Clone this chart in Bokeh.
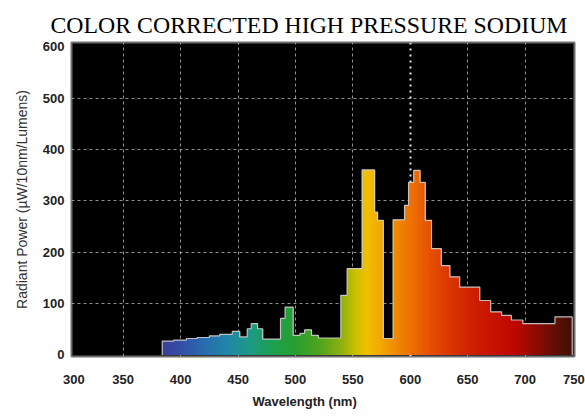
import numpy as np
from bokeh.plotting import figure
from bokeh.models import FixedTicker, Title, Range1d, Grid, ColumnDataSource
from bokeh.embed import file_html
from bokeh.resources import INLINE

# ---------------- data ----------------
# step edges of the spectral bins (nm) and radiant power in each bin
bin_edges = [384, 394, 405, 414.5, 425, 434, 445, 451.5, 458, 461.5,
             467, 471.5, 487, 491, 498, 504, 508, 514, 520, 539.5,
             545, 558, 569, 571.5, 576.5, 585, 595, 598.5, 603, 608.5,
             613, 618.5, 627, 634.5, 643, 660.5, 670, 679.5, 688, 698,
             726, 741]
power = [27, 29, 32, 34, 37, 40, 46, 35, 51, 61,
         51, 31, 71, 93, 38, 42, 49, 38, 33, 116,
         168, 360, 278, 262, 32, 263, 291, 336, 359, 336,
         262, 207, 174, 152, 132, 106, 84, 77, 68, 61,
         74]

x_tick_values = [307, 350, 400, 450, 500, 550, 600, 650, 700, 742.5]
x_tick_labels = ["300", "350", "400", "450", "500", "550", "600", "650", "700", "750"]
y_tick_values = [0, 100, 200, 300, 400, 500, 600]
x_grid_values = [350, 400, 450, 500, 550, 650, 700]
y_grid_values = [100, 200, 300, 400, 500]
marker_wavelength = [600]

# ---------------- style: wavelength -> colour stops ----------------
stop_nm = [380, 400, 420, 440, 460, 480, 500, 520, 540, 552, 562, 575,
           590, 605, 620, 640, 660, 690, 710, 730, 745]
stop_hex = ["#3c3c96", "#3450a8", "#2a6cb0", "#2286aa", "#1e9a86", "#1ea052",
            "#28a030", "#4ea420", "#90b010", "#c8c000", "#f0c000", "#f4a800",
            "#f08400", "#ec6a00", "#e44c00", "#d83000", "#cc1c00", "#c00800",
            "#8c0c04", "#581008", "#381008"]
stop_rgb = np.array([[int(h[i:i + 2], 16) for i in (1, 3, 5)] for h in stop_hex], float)


def wl_color(nm):
    r, g, b = (np.interp(nm, stop_nm, stop_rgb[:, k]) for k in range(3))
    return "#%02x%02x%02x" % (int(r), int(g), int(b))


# thin slices so the fill follows the colour of each wavelength;
# slices overlap the next one (drawn later, on top) to hide seams
OVERLAP = 1.3
lefts, rights, tops, cols = [], [], [], []
nb = len(power)
for i in range(nb):
    e0, e1 = bin_edges[i], bin_edges[i + 1]
    n = max(1, int(np.ceil(e1 - e0)))
    sub = np.linspace(e0, e1, n + 1)
    for j, (a, b) in enumerate(zip(sub[:-1], sub[1:])):
        last = j == n - 1
        first = j == 0
        r_ext = OVERLAP if (not last or (i + 1 < nb and power[i + 1] >= power[i])) else 0.0
        l_ext = OVERLAP if (first and i > 0 and power[i - 1] > power[i]) else 0.0
        lefts.append(a - l_ext)
        rights.append(b + r_ext)
        tops.append(power[i])
        cols.append(wl_color((a + b) / 2))
slices = ColumnDataSource(dict(left=lefts, right=rights, top=tops,
                               bottom=[0] * len(tops), color=cols))

# outline of the step curve
ox, oy = [bin_edges[0]], [0]
for i, v in enumerate(power):
    ox += [bin_edges[i], bin_edges[i + 1]]
    oy += [v, v]
ox.append(bin_edges[-1])
oy.append(0)

# ---------------- figure ----------------
p = figure(width=585, height=416,
           x_range=Range1d(305, 743), y_range=Range1d(-3, 608),
           output_backend="svg", toolbar_location=None,
           min_border_left=71, min_border_right=11,
           min_border_top=42, min_border_bottom=60,
           background_fill_color="black", border_fill_color="white",
           outline_line_color="#6e6e6e", outline_line_width=2)

p.title.text = "COLOR CORRECTED HIGH PRESSURE SODIUM"
p.title.text_font = "Liberation Serif"
p.title.text_font_size = "23.8px"
p.title.text_font_style = "normal"
p.title.text_color = "black"
p.title.align = "left"
p.title.offset = -21
p.title.standoff = 10

p.quad(left="left", right="right", top="top", bottom="bottom", source=slices,
       fill_color="color", line_color=None)
p.line(ox, oy, line_color="#d0d0d0", line_width=1.2, line_alpha=0.9)

# grids
p.xgrid.ticker = FixedTicker(ticks=x_grid_values)
p.ygrid.ticker = FixedTicker(ticks=y_grid_values)
for g in (p.xgrid[0], p.ygrid[0]):
    g.grid_line_color = "#cfcfcf"
    g.grid_line_dash = "3 3"
    g.grid_line_width = 1
    g.grid_line_alpha = 0.7
p.add_layout(Grid(dimension=0, ticker=FixedTicker(ticks=marker_wavelength),
                  grid_line_color="#e6e6e6", grid_line_dash="2 4",
                  grid_line_width=2))

# axes
p.xaxis.ticker = FixedTicker(ticks=x_tick_values)
p.xaxis.major_label_overrides = {v: s for v, s in zip(x_tick_values, x_tick_labels)}
p.yaxis.ticker = FixedTicker(ticks=y_tick_values)
for ax in (p.xaxis[0], p.yaxis[0]):
    ax.axis_line_color = None
    ax.major_tick_line_color = None
    ax.minor_tick_line_color = None
    ax.major_tick_out = 0
    ax.major_tick_in = 0
    ax.minor_tick_out = 0
    ax.minor_tick_in = 0
    ax.major_label_text_font = "Liberation Sans"
    ax.major_label_text_font_style = "bold"
    ax.major_label_text_font_size = "13px"
    ax.major_label_text_color = "#222222"
p.xaxis.major_label_standoff = 18
p.yaxis.major_label_standoff = 7

p.yaxis.axis_label = "Radiant Power (\u00b5W/10nm/Lumens)"
p.yaxis.axis_label_text_font = "Liberation Sans"
p.yaxis.axis_label_text_font_style = "normal"
p.yaxis.axis_label_text_font_size = "14px"
p.yaxis.axis_label_text_color = "#333333"
p.yaxis.axis_label_standoff = 10

p.add_layout(Title(text="Wavelength (nm)", align="left", offset=181,
                   text_font="Liberation Sans", text_font_style="bold",
                   text_font_size="13px", text_color="#222222",
                   standoff=10), "below")

open("out.html", "w").write(file_html(p, INLINE))
